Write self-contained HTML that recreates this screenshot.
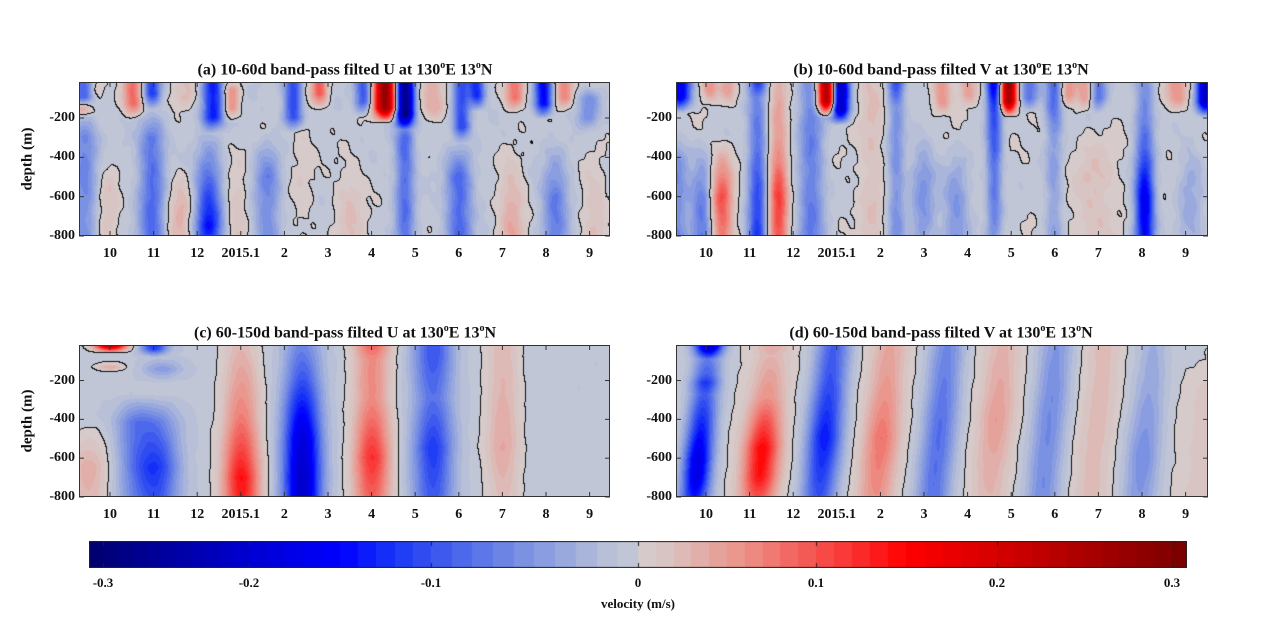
<!DOCTYPE html>
<html><head><meta charset="utf-8">
<style>
body{margin:0;background:#fff;width:1269px;height:638px;overflow:hidden;position:relative;font-family:"Liberation Serif",serif;font-weight:bold;color:#111}
.t{position:absolute;font-size:16px;white-space:nowrap;transform:translateX(-50%)}
.l{position:absolute;font-size:14px;white-space:nowrap;transform:translate(-50%,-50%)}
.yl{position:absolute;font-size:14px;white-space:nowrap;transform:translate(-100%,-50%)}
canvas{position:absolute}
sup{font-size:10px}
</style></head><body>
<canvas id="ca" width="531" height="154" style="left:79px;top:82px"></canvas>
<canvas id="cb" width="532" height="154" style="left:676px;top:82px"></canvas>
<canvas id="cc" width="531" height="152" style="left:79px;top:345px"></canvas>
<canvas id="cd" width="532" height="152" style="left:676px;top:345px"></canvas>
<canvas id="cbar" width="1098" height="27" style="left:89px;top:541px"></canvas>
<svg id="ov" width="1269" height="638" style="position:absolute;left:0;top:0"></svg>
<div class="t" style="left:345px;top:60px">(a) 10-60d band-pass filted U at 130<sup>o</sup>E 13<sup>o</sup>N</div>
<div class="t" style="left:941px;top:60px">(b) 10-60d band-pass filted V at 130<sup>o</sup>E 13<sup>o</sup>N</div>
<div class="t" style="left:345px;top:323px">(c) 60-150d band-pass filted U at 130<sup>o</sup>E 13<sup>o</sup>N</div>
<div class="t" style="left:941px;top:323px">(d) 60-150d band-pass filted V at 130<sup>o</sup>E 13<sup>o</sup>N</div>
<div class="l" style="left:28px;top:159px;transform:translate(-50%,-50%) rotate(-90deg);font-size:15px">depth (m)</div>
<div class="l" style="left:28px;top:421px;transform:translate(-50%,-50%) rotate(-90deg);font-size:15px">depth (m)</div>
<div class="l" style="left:638px;top:604px;font-size:13px">velocity (m/s)</div>
<div id="labels"></div>
<script>
function prof(pts,d){if(d<=pts[0][0])return pts[0][1];for(var i=1;i<pts.length;i++){if(d<=pts[i][0]){var a=pts[i-1],b=pts[i];return a[1]+(b[1]-a[1])*(d-a[0])/(b[0]-a[0]);}}return pts[pts.length-1][1];}
var stops=[[-0.31,[0,0,110]],[-0.15,[0,0,255]],[-0.12,[25,55,245]],[-0.06,[115,140,228]],[-0.01,[192,198,214]],[0,[200,200,206]],[0.01,[214,203,202]],[0.06,[236,145,135]],[0.12,[250,50,50]],[0.15,[255,0,0]],[0.31,[120,0,0]]];
function cm(v){if(v<-0.31)v=-0.31;if(v>0.31)v=0.31;
 var q=v<0?-(Math.floor(-v/0.01)+0.5)*0.01:(Math.floor(v/0.01)+0.5)*0.01;
 if(Math.abs(v)<0.01)q=v<0?-0.01:0.01;
 for(var i=1;i<stops.length;i++){if(q<=stops[i][0]){var a=stops[i-1],b=stops[i],f=(q-a[0])/(b[0]-a[0]);return [0,1,2].map(function(k){return Math.round(a[1][k]+(b[1][k]-a[1][k])*f)});}}return stops[stops.length-1][1];}
function render(id,x0,blobs,off,noise,tilt){
 var c=document.getElementById(id),W=c.width,H=c.height,ctx=c.getContext('2d'),im=ctx.createImageData(W,H);
 var F=new Float32Array(W*H);
 for(var y=0;y<H;y++){var d=800-(H-1-y)*5.1;
  for(var x=0;x<W;x++){var t=(x+c.offsetLeft-x0)/43.6;var v=off;
   for(var i=0;i<blobs.length;i++){var b=blobs[i];var cc=b[0]+tilt*(0.5-d/800);var u=(t-cc)/b[1];if(u*u>9)continue;v+=Math.exp(-u*u)*prof(b[2],d);}
   v+=noise*(Math.sin(3.1*t+0.013*d)*0.5+Math.sin(7.3*t-0.021*d+1)*0.4+Math.sin(11.7*t+0.035*d+2)*0.3+Math.sin(17*t-0.05*d+4)*0.25);
   F[y*W+x]=v;}}
 for(var y=0;y<H;y++)for(var x=0;x<W;x++){var v=F[y*W+x],col=cm(v),p=(y*W+x)*4;
  var s=v>=0;var e=false;if(x<W-1&&((F[y*W+x+1]>=0)!=s))e=true;if(y<H-1&&((F[(y+1)*W+x]>=0)!=s))e=true;
  if(e)col=[15,15,15];im.data[p]=col[0];im.data[p+1]=col[1];im.data[p+2]=col[2];im.data[p+3]=255;}
 ctx.putImageData(im,0,0);}
function S(d0,a,d1){return [[d0-60,0],[d0,a],[d1,a],[d1+80,0]];}
var A=[
[-0.6,0.25,S(0,-0.09,90)],[-0.65,0.2,[[100,0],[150,0.07],[200,0]]],[-0.37,0.2,S(0,0.04,60)],[0.52,0.22,S(20,0.09,130)],
[0.95,0.2,S(0,-0.11,80)],[1.7,0.3,S(0,0.03,100)],[2.35,0.25,S(20,-0.13,200)],[2.77,0.18,S(60,0.07,150)],
[4.2,0.22,S(10,-0.11,200)],[4.8,0.18,S(0,0.1,80)],[5.8,0.2,S(20,-0.09,120)],[6.3,0.25,S(0,0.28,150)],
[6.75,0.2,S(0,-0.28,180)],[7.4,0.3,S(0,0.045,150)],[8.05,0.2,S(0,-0.1,250)],[8.4,0.18,S(0,-0.12,90)],
[9.27,0.22,S(0,0.09,100)],[9.93,0.2,S(0,-0.15,130)],[10.4,0.2,S(0,0.07,100)],[10.96,0.25,S(100,-0.05,200)],
[-0.6,0.3,[[150,0],[300,-0.06],[800,-0.05]]],[-0.05,0.25,[[300,0],[600,0.025],[800,0.025]]],[0.95,0.3,[[150,0],[300,-0.07],[800,-0.08]]],
[1.6,0.3,[[400,0],[650,0.04],[800,0.035]]],[2.25,0.3,[[250,0],[500,-0.08],[750,-0.14],[800,-0.12]]],[2.9,0.25,[[300,0],[600,0.025]]],
[3.6,0.3,[[250,0],[500,-0.06],[800,-0.05]]],[4.4,0.3,[[150,0.015],[800,0.01]]],[5.5,0.35,[[300,0],[600,0.025]]],
[6.75,0.22,[[150,0],[300,-0.08],[800,-0.07]]],[8.0,0.3,[[300,0],[500,-0.08],[800,-0.08]]],[9.2,0.3,[[300,0],[650,0.045],[800,0.045]]],
[10.2,0.3,[[300,0],[600,-0.07],[800,-0.06]]],[11.1,0.3,[[300,0],[600,0.025]]]];
render('ca',110,A,-0.006,0.006,0);
var B=[
[-0.6,0.25,S(0,-0.16,100)],[-0.7,0.3,[[250,0],[400,-0.05],[800,-0.06]]],[0.07,0.18,S(0,0.06,60)],[0.5,0.18,S(0,0.05,70)],
[0.35,0.25,[[300,0],[600,0.11],[800,0.08]]],[-0.1,0.25,[[300,0],[600,-0.07]]],[1.17,0.22,[[0,-0.13],[100,-0.06],[500,-0.09],[800,-0.12]]],
[1.65,0.22,[[0,0.04],[300,0.05],[600,0.12],[800,0.1]]],[2.4,0.3,[[0,-0.06],[800,-0.07]]],[2.75,0.2,S(0,0.27,120)],[3.07,0.2,S(0,-0.22,160)],
[3.8,0.3,[[0,0.025],[800,0.02]]],[4.35,0.2,[[0,-0.12],[150,-0.05],[800,-0.05]]],[4.97,0.3,[[200,0],[500,-0.05],[800,-0.04]]],
[5.4,0.2,S(0,0.06,120)],[5.73,0.3,[[300,0],[600,-0.05]]],[6.0,0.2,S(0,0.05,80)],[6.6,0.18,[[0,-0.18],[200,-0.1],[800,-0.05]]],
[6.93,0.18,S(0,0.27,120)],[7.4,0.22,S(0,-0.07,100)],[7.97,0.2,[[0,-0.09],[150,-0.08],[300,-0.04],[800,-0.04]]],
[8.3,0.18,S(0,0.06,80)],[8.7,0.2,S(0,0.06,100)],[8.97,0.2,S(0,-0.08,100)],[10.05,0.22,[[0,-0.05],[350,-0.08],[600,-0.17],[800,-0.15]]],
[8.9,0.5,[[200,0],[500,0.025],[800,0.02]]],[10.8,0.25,S(0,0.06,100)],[11.45,0.2,S(0,-0.22,120)],[11.1,0.3,[[200,0],[500,-0.03]]]];
render('cb',706,B,-0.003,0.006,0);
var C=[
[0,0.35,[[0,0.27],[30,0.25],[70,0]]],[0,0.3,[[110,0],[140,0.05],[170,0]]],[-0.5,0.45,[[400,0],[650,0.045],[800,0.035]]],
[1.0,0.3,[[0,-0.14],[50,-0.1],[90,0]]],[1.2,0.45,[[80,0],[150,-0.04],[220,0]]],[1.05,0.5,[[280,0],[420,-0.06],[650,-0.11],[800,-0.09]]],
[0.5,0.4,[[280,0],[420,-0.05],[800,-0.03]]],
[3.0,0.42,[[0,0.03],[150,0.05],[400,0.08],[700,0.15],[800,0.14]]],[4.4,0.42,[[0,-0.05],[200,-0.09],[500,-0.18],[700,-0.2],[800,-0.19]]],
[6.0,0.42,[[0,0.11],[100,0.07],[300,0.07],[600,0.13],[800,0.1]]],[7.4,0.45,[[0,-0.09],[100,-0.09],[300,-0.07],[550,-0.11],[800,-0.09]]],
[9.0,0.4,[[0,0.035],[300,0.04],[550,0.05],[800,0.03]]]];
render('cc',110,C,-0.008,0.0015,0);
var D=[
[-0.1,0.38,[[0,-0.05],[800,-0.06]]],[-0.1,0.3,[[0,-0.16],[40,-0.16],[100,-0.02],[180,-0.04],[220,-0.07],[280,-0.04],[450,-0.08],[600,-0.12],[700,-0.12],[800,-0.08]]],
[1.35,0.4,[[0,0.05],[80,0.03],[300,0.06],[550,0.15],[700,0.14],[800,0.1]]],
[2.75,0.4,[[0,-0.09],[200,-0.1],[500,-0.14],[800,-0.1]]],[4.05,0.4,[[0,0.04],[200,0.05],[500,0.08],[800,0.06]]],
[5.37,0.4,[[0,-0.06],[200,-0.07],[400,-0.08],[800,-0.08]]],[6.65,0.4,[[0,0.03],[400,0.05],[800,0.03]]],
[7.87,0.4,[[0,-0.05],[300,-0.06],[800,-0.06]]],[8.97,0.4,[[0,0.025],[800,0.025]]],[10.1,0.4,[[0,-0.03],[300,-0.04],[600,-0.06],[800,-0.05]]],
[11.5,0.5,[[100,0],[250,0.015],[800,0.015]]]];
render('cd',706,D,0.0,0.0015,0.35);
(function(){var c=document.getElementById('cbar'),ctx=c.getContext('2d');var px=[89,103,249,431,638,816,997,1172,1187],vs=[-0.31,-0.3,-0.2,-0.1,0,0.1,0.2,0.3,0.31];
 for(var x=0;x<1098;x++){var X=x+89.5,v=0;for(var i=1;i<px.length;i++){if(X<=px[i]){v=vs[i-1]+(vs[i]-vs[i-1])*(X-px[i-1])/(px[i]-px[i-1]);break;}}
  var col=cm(v);ctx.fillStyle='rgb('+col+')';ctx.fillRect(x,0,1,27);}
 ctx.strokeStyle='#222';ctx.lineWidth=1;ctx.strokeRect(0.5,0.5,1097,26);
 [103,249,431,638,816,997,1172].forEach(function(p){ctx.beginPath();ctx.moveTo(p-89+0.5,27);ctx.lineTo(p-89+0.5,22);ctx.moveTo(p-89+0.5,0);ctx.lineTo(p-89+0.5,5);ctx.stroke();});
})();
(function(){var svg=document.getElementById('ov'),h='',lab='';
 var P=[[79,610,82,236,110],[676,1208,82,236,706],[79,610,345,497,110],[676,1208,345,497,706]];
 var ml=['10','11','12','2015.1','2','3','4','5','6','7','8','9'];
 P.forEach(function(p,k){var L=p[0],R=p[1],T=p[2],Bm=p[3];
  h+='<rect x="'+(L+0.5)+'" y="'+(T+0.5)+'" width="'+(R-L-1)+'" height="'+(Bm-T-1)+'" fill="none" stroke="#333" stroke-width="1"/>';
  for(var i=0;i<12;i++){var x=p[4]+43.6*i;h+='<line x1="'+x+'" y1="'+Bm+'" x2="'+x+'" y2="'+(Bm-5)+'" stroke="#333"/><line x1="'+x+'" y1="'+T+'" x2="'+x+'" y2="'+(T+5)+'" stroke="#333"/>';
   lab+='<div class="l" style="left:'+x+'px;top:'+(Bm+18)+'px">'+ml[i]+'</div>';}
  var sc=(Bm-T)/783;
  [200,400,600,800].forEach(function(d){var y=Bm-(800-d)*sc;h+='<line x1="'+L+'" y1="'+y+'" x2="'+(L+5)+'" y2="'+y+'" stroke="#333"/><line x1="'+R+'" y1="'+y+'" x2="'+(R-5)+'" y2="'+y+'" stroke="#333"/>';
   lab+='<div class="yl" style="left:'+(L-4)+'px;top:'+y+'px">-'+d+'</div>';});
 });
 [['-0.3',103],['-0.2',249],['-0.1',431],['0',638],['0.1',816],['0.2',997],['0.3',1172]].forEach(function(a){lab+='<div class="l" style="left:'+a[1]+'px;top:583px;font-size:13px">'+a[0]+'</div>';});
 svg.innerHTML=h;document.getElementById('labels').innerHTML=lab;})();
</script>
</body></html>
